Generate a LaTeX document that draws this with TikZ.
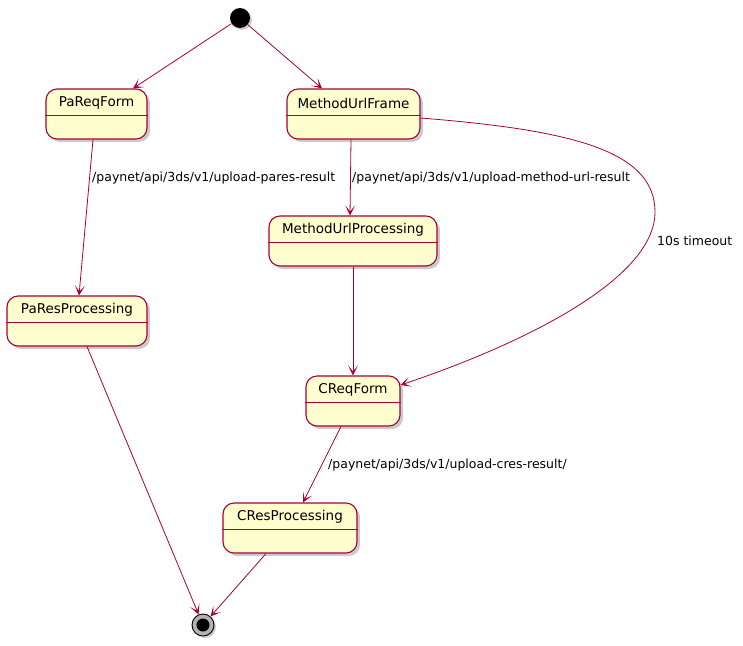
\documentclass[tikz,border=0pt]{standalone}
\usepackage{fontspec}
\setmainfont{DejaVu Sans}
\usetikzlibrary{arrows.meta,shadows}
\definecolor{umlred}{HTML}{A80036}
\definecolor{umlfill}{HTML}{FEFECE}
\tikzset{
  statebox/.style={draw=umlred, fill=umlfill, line width=1.1pt, rounded corners=11pt,
    drop shadow={shadow xshift=3pt, shadow yshift=-3pt, fill=black!45, opacity=0.45},
    minimum height=50pt, inner sep=0pt},
  statetitle/.style={font=\fontsize{13.5}{15}\selectfont, inner sep=0pt, anchor=center},
  divider/.style={draw=umlred, line width=1.1pt},
  trans/.style={draw=umlred, line width=0.8pt, -{Stealth[length=10pt,width=10pt,inset=6pt]}},
  translabel/.style={font=\fontsize{12.5}{14}\selectfont, inner sep=0pt, anchor=west},
}
\begin{document}
\begin{tikzpicture}[x=1pt,y=-1pt]
\useasboundingbox (0,0) rectangle (743,645);
% start / end
\node[circle, fill=black, minimum size=20pt, inner sep=0pt,
  drop shadow={shadow xshift=2pt, shadow yshift=-2pt, fill=black!45, opacity=0.45}] (start) at (240,18) {};
\node[circle, draw=black, fill=black!30, line width=0.9pt, minimum size=22pt, inner sep=0pt,
  drop shadow={shadow xshift=2pt, shadow yshift=-2pt, fill=black!45, opacity=0.45}] (end) at (203,625) {};
\node[circle, fill=black, minimum size=13pt, inner sep=0pt] (endin) at (end) {};
% states
\node[statebox, minimum width=101pt] (pa) at (96.5,114) {};
\node[statetitle] (paT) at (96.5,103) {PaReqForm};
\draw[divider] ([yshift=-27pt]pa.north west) -- ([yshift=-27pt]pa.north east);

\node[statebox, minimum width=133pt] (muf) at (353.5,114) {};
\node[statetitle] (mufT) at (353.5,103) {MethodUrlFrame};
\draw[divider] ([yshift=-27pt]muf.north west) -- ([yshift=-27pt]muf.north east);

\node[statebox, minimum width=168pt] (mup) at (353,241) {};
\node[statetitle] (mupT) at (353,230) {MethodUrlProcessing};
\draw[divider] ([yshift=-27pt]mup.north west) -- ([yshift=-27pt]mup.north east);

\node[statebox, minimum width=140pt] (pres) at (77,321) {};
\node[statetitle] (presT) at (77,310) {PaResProcessing};
\draw[divider] ([yshift=-27pt]pres.north west) -- ([yshift=-27pt]pres.north east);

\node[statebox, minimum width=94pt] (creq) at (353,401) {};
\node[statetitle] (creqT) at (353,390) {CReqForm};
\draw[divider] ([yshift=-27pt]creq.north west) -- ([yshift=-27pt]creq.north east);

\node[statebox, minimum width=134pt] (cres) at (290,528) {};
\node[statetitle] (cresT) at (290,517) {CResProcessing};
\draw[divider] ([yshift=-27pt]cres.north west) -- ([yshift=-27pt]cres.north east);

% transitions
\draw[trans] (start) -- ([xshift=36.5pt]pa.north);
\draw[trans] (start) -- ([xshift=-31.5pt]muf.north);
\draw[trans] ([xshift=-3.5pt]pa.south) -- ([xshift=2pt]pres.north);
\draw[trans] ([xshift=-2.5pt]muf.south) -- ([xshift=-3pt]mup.north);
\draw[trans] ([yshift=-4pt]muf.east) .. controls (570,130) and (655,150) .. (655,212)
  .. controls (655,280) and (520,345) .. ([yshift=16pt]creq.east);
\draw[trans] (mup.south) -- (creq.north);
\draw[trans] ([xshift=10pt]pres.south) -- (end);
\draw[trans] ([xshift=-12pt]creq.south) -- ([xshift=13pt]cres.north);
\draw[trans] ([xshift=-24pt]cres.south) -- (end);

% labels
\node[translabel] (l1) at (92,178) {/paynet/api/3ds/v1/upload-pares-result};
\node[translabel] (l2) at (352,178) {/paynet/api/3ds/v1/upload-method-url-result};
\node[translabel] (l3) at (657,241) {10s timeout};
\node[translabel] (l4) at (328,465) {/paynet/api/3ds/v1/upload-cres-result/};
\end{tikzpicture}
\end{document}
